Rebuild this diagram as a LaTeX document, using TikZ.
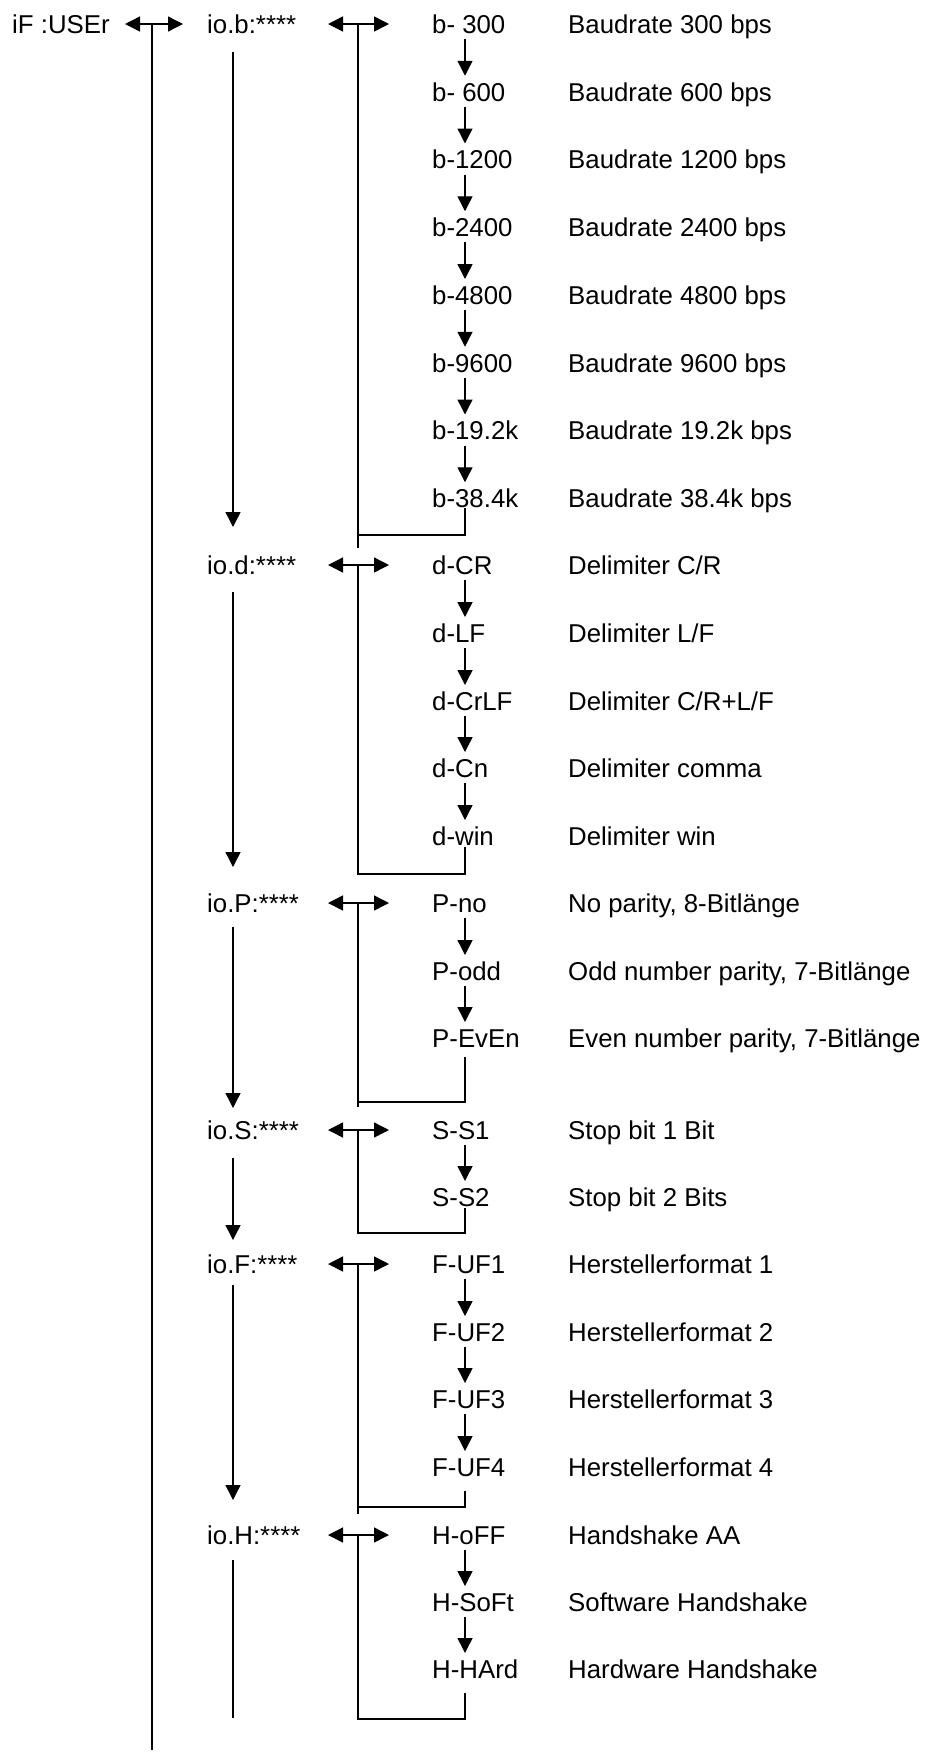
\documentclass[tikz,border=0pt]{standalone}
\usepackage{fontspec}
\setmainfont{Liberation Sans}
\usetikzlibrary{arrows.meta}
\tikzset{
  lbl/.style={anchor=west, inner sep=0pt, text height=18.5pt, text depth=0pt,
              font=\fontsize{25.8pt}{30pt}\selectfont},
  ln/.style={line width=1.4pt},
  tip/.style={},
  arr/.style={ln, -{Triangle[width=15pt,length=15pt]}},
  dbl/.style={ln, {Triangle[width=15pt,length=15pt]}-{Triangle[width=15pt,length=15pt]}},
}
\newcommand\chainarr[2]{\draw[arr] ([xshift=33pt,yshift=-15pt]#1.west) -- ([xshift=33pt,yshift=16pt]#2.west);}
\newcommand\dblarr[1]{\draw[dbl] ([xshift=-104pt]#1.west) -- ([xshift=-43pt]#1.west);}
\begin{document}
\begin{tikzpicture}[x=1pt,y=-1pt]
\useasboundingbox (0,0) rectangle (937,1754);

% main column
\node[lbl] (user) at (12,24) {iF :USEr};
\draw[dbl] ([xshift=113pt]user.west) -- ([xshift=171pt]user.west);
\coordinate (mainend) at (152,1750);
\draw[ln] ([xshift=140pt]user.west) -- (mainend);

% io column
\node[lbl] (iob) at (207,24)   {io.b:****};
\node[lbl] (iod) at (207,565)  {io.d:****};
\node[lbl] (ioP) at (207,903)  {io.P:****};
\node[lbl] (ioS) at (207,1130) {io.S:****};
\node[lbl] (ioF) at (207,1264) {io.F:****};
\node[lbl] (ioH) at (207,1535) {io.H:****};

\draw[arr] ([xshift=26pt,yshift=-28pt]iob.west) -- ([xshift=26pt,yshift=38pt]iod.west);
\draw[arr] ([xshift=26pt,yshift=-27pt]iod.west) -- ([xshift=26pt,yshift=36pt]ioP.west);
\draw[arr] ([xshift=26pt,yshift=-24pt]ioP.west) -- ([xshift=26pt,yshift=22pt]ioS.west);
\draw[arr] ([xshift=26pt,yshift=-28pt]ioS.west) -- ([xshift=26pt,yshift=24pt]ioF.west);
\draw[arr] ([xshift=26pt,yshift=-21pt]ioF.west) -- ([xshift=26pt,yshift=35pt]ioH.west);
\draw[ln]  ([xshift=26pt,yshift=-25pt]ioH.west) -- ([xshift=26pt,yshift=-183pt]ioH.west);

% ---- baudrate block
\node[lbl] (vb1) at (432,24)     {b- 300};   \node[lbl] (db1) at (568,24)     {Baudrate 300 bps};
\node[lbl] (vb2) at (432,91.75)  {b- 600};   \node[lbl] (db2) at (568,91.75)  {Baudrate 600 bps};
\node[lbl] (vb3) at (432,159.5)  {b-1200};   \node[lbl] (db3) at (568,159.5)  {Baudrate 1200 bps};
\node[lbl] (vb4) at (432,227.25) {b-2400};   \node[lbl] (db4) at (568,227.25) {Baudrate 2400 bps};
\node[lbl] (vb5) at (432,295)    {b-4800};   \node[lbl] (db5) at (568,295)    {Baudrate 4800 bps};
\node[lbl] (vb6) at (432,362.75) {b-9600};   \node[lbl] (db6) at (568,362.75) {Baudrate 9600 bps};
\node[lbl] (vb7) at (432,430.5)  {b-19.2k};  \node[lbl] (db7) at (568,430.5)  {Baudrate 19.2k bps};
\node[lbl] (vb8) at (432,498.25) {b-38.4k};  \node[lbl] (db8) at (568,498.25) {Baudrate 38.4k bps};
\chainarr{vb1}{vb2}\chainarr{vb2}{vb3}\chainarr{vb3}{vb4}\chainarr{vb4}{vb5}
\chainarr{vb5}{vb6}\chainarr{vb6}{vb7}\chainarr{vb7}{vb8}
\dblarr{vb1}
\coordinate (bl) at (358,535); \coordinate (br) at (465,535);
\draw[ln] ([xshift=-74pt]vb1.west) -- ([yshift=-13pt]bl);
\draw[ln] (bl) -- (br) -- ([yshift=-10pt]vb8.center -| br);

% ---- delimiter block
\node[lbl] (vd1) at (432,565) {d-CR};    \node[lbl] (dd1) at (568,565) {Delimiter C/R};
\node[lbl] (vd2) at (432,633) {d-LF};    \node[lbl] (dd2) at (568,633) {Delimiter L/F};
\node[lbl] (vd3) at (432,701) {d-CrLF};  \node[lbl] (dd3) at (568,701) {Delimiter C/R+L/F};
\node[lbl] (vd4) at (432,768) {d-Cn};    \node[lbl] (dd4) at (568,768) {Delimiter comma};
\node[lbl] (vd5) at (432,836) {d-win};   \node[lbl] (dd5) at (568,836) {Delimiter win};
\chainarr{vd1}{vd2}\chainarr{vd2}{vd3}\chainarr{vd3}{vd4}\chainarr{vd4}{vd5}
\dblarr{vd1}
\coordinate (dl) at (358,874); \coordinate (dr) at (465,874);
\draw[ln] ([xshift=-74pt]vd1.west) -- (dl) -- (dr) -- ([yshift=-11pt]vd5.center -| dr);

% ---- parity block
\node[lbl] (vp1) at (432,903)  {P-no};    \node[lbl] (dp1) at (568,903)  {No parity, 8-Bitlänge};
\node[lbl] (vp2) at (432,971)  {P-odd};   \node[lbl] (dp2) at (568,971)  {Odd number parity, 7-Bitlänge};
\node[lbl] (vp3) at (432,1038) {P-EvEn};  \node[lbl] (dp3) at (568,1038) {Even number parity, 7-Bitlänge};
\chainarr{vp1}{vp2}\chainarr{vp2}{vp3}
\dblarr{vp1}
\coordinate (pl) at (358,1102); \coordinate (pr) at (465,1102);
\draw[ln] ([xshift=-74pt]vp1.west) -- ([yshift=-5pt]pl);
\draw[ln] (pl) -- (pr) -- ([yshift=-19pt]vp3.center -| pr);

% ---- stop bit block
\node[lbl] (vs1) at (432,1130) {S-S1};  \node[lbl] (ds1) at (568,1130) {Stop bit 1 Bit};
\node[lbl] (vs2) at (432,1197) {S-S2};  \node[lbl] (ds2) at (568,1197) {Stop bit 2 Bits};
\chainarr{vs1}{vs2}
\dblarr{vs1}
\coordinate (sl) at (358,1233); \coordinate (sr) at (465,1233);
\draw[ln] ([xshift=-74pt]vs1.west) -- (sl) -- (sr) -- ([yshift=-11pt]vs2.center -| sr);

% ---- format block
\node[lbl] (vf1) at (432,1264) {F-UF1};  \node[lbl] (df1) at (568,1264) {Herstellerformat 1};
\node[lbl] (vf2) at (432,1332) {F-UF2};  \node[lbl] (df2) at (568,1332) {Herstellerformat 2};
\node[lbl] (vf3) at (432,1399) {F-UF3};  \node[lbl] (df3) at (568,1399) {Herstellerformat 3};
\node[lbl] (vf4) at (432,1467) {F-UF4};  \node[lbl] (df4) at (568,1467) {Herstellerformat 4};
\chainarr{vf1}{vf2}\chainarr{vf2}{vf3}\chainarr{vf3}{vf4}
\dblarr{vf1}
\coordinate (fl) at (358,1507); \coordinate (fr) at (465,1507);
\draw[ln] ([xshift=-74pt]vf1.west) -- ([yshift=-7pt]fl);
\draw[ln] (fl) -- (fr) -- ([yshift=-24pt]vf4.center -| fr);

% ---- handshake block
\node[lbl] (vh1) at (432,1535) {H-oFF};   \node[lbl] (dh1) at (568,1535) {Handshake AA};
\node[lbl] (vh2) at (432,1602) {H-SoFt};  \node[lbl] (dh2) at (568,1602) {Software Handshake};
\node[lbl] (vh3) at (432,1669) {H-HArd};  \node[lbl] (dh3) at (568,1669) {Hardware Handshake};
\chainarr{vh1}{vh2}\chainarr{vh2}{vh3}
\dblarr{vh1}
\coordinate (hl) at (358,1719); \coordinate (hr) at (465,1719);
\draw[ln] ([xshift=-74pt]vh1.west) -- (hl) -- (hr) -- ([yshift=-24pt]vh3.center -| hr);
\end{tikzpicture}
\end{document}
